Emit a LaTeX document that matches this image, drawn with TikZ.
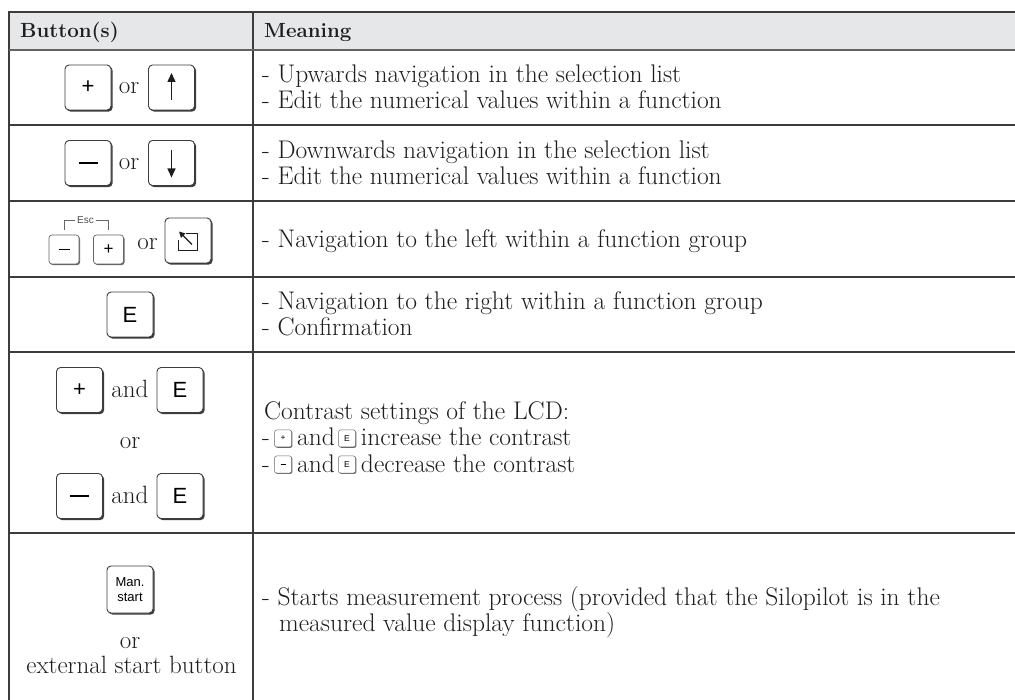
\documentclass[tikz,border=0pt]{standalone}
\usepackage{fontspec}
\newfontfamily\keyfont{Liberation Sans}
\usetikzlibrary{positioning,shadows,arrows.meta}

\definecolor{rulegray}{HTML}{3C3C3C}
\definecolor{headfill}{HTML}{E6E7E8}
\definecolor{inkgray}{HTML}{1E1E1E}

\tikzset{
  tabrule/.style={draw=rulegray, line width=1.2pt},
  headrule/.style={draw=black!62, line width=2pt},
  txt/.style={anchor=base west, inner sep=0pt, text=inkgray, font=\fontsize{25.5}{26}\selectfont},
  hdr/.style={txt, font=\fontsize{20.5}{26}\selectfont\bfseries},
  word/.style={inner sep=0pt, text=inkgray, font=\fontsize{25}{26}\selectfont, text height=11.5pt, text depth=0pt},
  keybase/.style={draw=rulegray, fill=white, inner sep=0pt},
  keybtn/.style={keybase, line width=0.9pt, rounded corners=4pt, minimum width=46pt, minimum height=45pt,
    font=\keyfont\fontsize{22}{22}\selectfont,
    general shadow={fill=rulegray, shadow xshift=1.6pt, shadow yshift=-1.6pt}},
  smallkey/.style={keybase, draw=black!60, line width=0.7pt, rounded corners=3pt, minimum width=30pt, minimum height=29pt,
    font=\keyfont\fontsize{17}{17}\selectfont,
    general shadow={fill=black!60, shadow xshift=1.1pt, shadow yshift=-1.1pt}},
  minikey/.style={keybase, draw=black!60, line width=0.5pt, rounded corners=2pt, minimum width=17pt, minimum height=17pt,
    font=\keyfont\fontsize{8.5}{8.5}\selectfont,
    general shadow={fill=black!60, shadow xshift=0.8pt, shadow yshift=-0.8pt}},
  keyarrow/.style={draw=inkgray, line width=1.4pt, -{Triangle[length=9pt,width=8pt]}},
  escline/.style={draw=black!60, line width=0.6pt},
  esclabel/.style={inner sep=1.5pt, text=black!70, font=\keyfont\fontsize{10}{10}\selectfont},
}

\begin{document}
\begin{tikzpicture}[x=1pt,y=-1pt]
\useasboundingbox (0,0) rectangle (1015,700);

% table frame
\fill[headfill] (9,12) rectangle (1015,50);
\draw[tabrule] (1015,12) -- (9,12) -- (9,700);
\draw[tabrule] (253,12) -- (253,700);
\draw[headrule] (9,50) -- (1015,50);
\foreach \yy in {125,201,277,352,533}
  \draw[tabrule] (9,\yy) -- (1015,\yy);

% header
\node[hdr] (hbtn) at (20,38) {Button(s)};
\node[hdr] (hmean) at (264,38) {Meaning};

% row 1
\node[keybtn] (plusA) at (88,87.5) {+};
\node[word] (orA) at (129,88) {or};
\node[keybtn] (upkey) at (171.5,87.5) {};
\draw[keyarrow] ([yshift=-12.5pt]upkey.center) -- ([yshift=14.5pt]upkey.center);
\node[txt] (uptxt) at (262,83) {- Upwards navigation in the selection list};
\node[txt] (edittxtA) at (262,109) {- Edit the numerical values within a function};

% row 2
\node[keybtn] (minusB) at (88,163) {\rule{19pt}{2.4pt}};
\node[word] (orB) at (129,164) {or};
\node[keybtn] (downkey) at (171.5,163) {};
\draw[keyarrow] ([yshift=12.5pt]downkey.center) -- ([yshift=-14.5pt]downkey.center);
\node[txt] (downtxt) at (262,158.5) {- Downwards navigation in the selection list};
\node[txt] (edittxtB) at (262,184.5) {- Edit the numerical values within a function};

% row 3
\node[smallkey] (minusS) at (64,249.5) {\rule{11pt}{1.5pt}};
\node[smallkey] (plusS) at (108.5,249.5) {+};
\node[esclabel] (esc) at (85.5,220) {Esc};
\draw[escline] ([yshift=5pt]minusS.north) |- (esc.west);
\draw[escline] (esc.east) -| ([yshift=5pt]plusS.north);
\node[word] (orC) at (147.5,244) {or};
\node[keybtn] (bk) at (188,240.5) {};
\begin{scope}[shift={(bk.center)}]
  \draw[draw=inkgray, line width=0.8pt] (-2,-7) -- (9,-7) -- (9,10) -- (-10,10) -- (-10,0);
  \draw[draw=inkgray, line width=1.2pt, -{Triangle[length=6pt,width=6pt]}] (4,4) -- (-9,-9);
\end{scope}
\node[txt] (lefttxt) at (262,247.5) {- Navigation to the left within a function group};

% row 4
\node[keybtn] (enterD) at (130,314.5) {E};
\node[txt] (righttxt) at (262,310) {- Navigation to the right within a function group};
\node[txt] (conftxt) at (262,336) {- Confirmation};

% row 5
\node[keybtn] (plusE) at (79.5,390) {+};
\node[word] (andE) at (130,392) {and};
\node[keybtn] (enterE) at (180,390) {E};
\node[word] (orE) at (130,443) {or};
\node[keybtn] (minusE) at (79.5,496) {\rule{19pt}{2.4pt}};
\node[word] (andF) at (130,498) {and};
\node[keybtn] (enterF) at (180,496) {E};

\node[txt] (ctitle) at (264,420) {Contrast settings of the LCD:};
\node[txt] (cdashA) at (262,446) {-};
\node[minikey] (cplusA) at ([xshift=13pt,yshift=7.5pt]cdashA.base east) {+};
\path (cplusA.east |- cdashA.base) ++(5,0) node[txt] (candA) {and};
\node[minikey] (ceA) at ([xshift=12pt,yshift=7.5pt]candA.base east) {E};
\path (ceA.east |- cdashA.base) ++(5,0) node[txt] (cincr) {increase the contrast};
\node[txt] (cdashB) at (262,472) {-};
\node[minikey] (cminusB) at ([xshift=13pt,yshift=7.5pt]cdashB.base east) {\rule{5pt}{0.7pt}};
\path (cminusB.east |- cdashB.base) ++(5,0) node[txt] (candB) {and};
\node[minikey] (ceB) at ([xshift=12pt,yshift=7.5pt]candB.base east) {E};
\path (ceB.east |- cdashB.base) ++(5,0) node[txt] (cdecr) {decrease the contrast};

% row 6
\node[keybtn, minimum height=47pt, align=center, font=\keyfont\fontsize{13}{15}\selectfont] (manstart) at (130,589.5) {Man.\\start};
\node[word] (orG) at (130,643) {or};
\node[word] (extbtn) at (131.5,668) {external start button};
\node[txt] (starttxt) at (262,605) {- Starts measurement process (provided that the Silopilot is in the};
\node[txt] (meastxt) at (279,631) {measured value display function)};
\end{tikzpicture}
\end{document}
